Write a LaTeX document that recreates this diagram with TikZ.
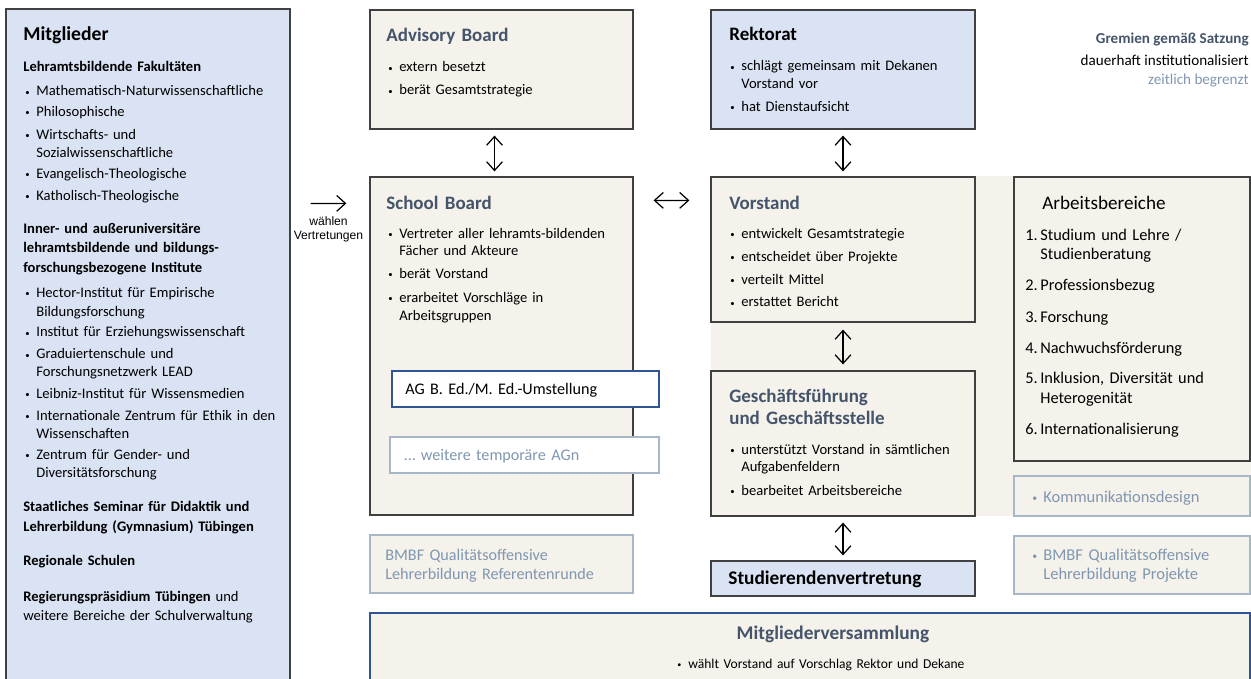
\documentclass[tikz,border=0pt]{standalone}
\usepackage{fontspec}
\setmainfont{Carlito}
\newfontfamily\arialschrift{Liberation Sans}
\usepackage{tikz}
\usetikzlibrary{arrows.meta, positioning, fit, calc}
\usepackage{xcolor}
\definecolor{hellblau}{HTML}{DAE3F3}
\definecolor{beige}{HTML}{F5F1EB}
\definecolor{schiefer}{HTML}{44546A}
\definecolor{stahl}{HTML}{7F97B0}
\definecolor{graublau}{HTML}{A7B7C9}
\definecolor{dunkelblau}{HTML}{2F5597}
\definecolor{rand}{HTML}{404040}
\tikzstyle{kasten} = [rectangle, draw = rand, fill = beige, line width = 0.7pt, inner sep = 0pt]
\tikzstyle{blaukasten} = [kasten, fill = hellblau]
\tikzstyle{hellkasten} = [kasten, draw = graublau, line width = 0.6pt]
\tikzstyle{agkasten} = [kasten, fill = white, draw = dunkelblau, line width = 0.6pt]
\tikzstyle{inhalt} = [anchor = base west, inner sep = 0pt, text width = 9cm, align = left, font = \fontsize{8.3}{10.2}\selectfont]
\tikzstyle{titel} = [anchor = base west, inner sep = 0pt, text width = 8cm, align = left, text = schiefer, font = \fontsize{10.8}{13}\selectfont\bfseries]
\tikzstyle{legende} = [anchor = base east, inner sep = 0pt, font = \fontsize{8.6}{10}\selectfont]
\newcommand{\pkt}{\makebox[0.22cm][l]{\raisebox{0.12ex}{\scalebox{0.6}{\textbullet}}}}
\newcommand{\einr}{\hspace*{0.22cm}}
\newcommand{\lpkt}{\hspace*{0.04cm}\pkt}
\newcommand{\leinr}{\hspace*{0.04cm}\einr}
\newcommand{\nr}[1]{\makebox[0.3cm][l]{#1}}
\newcommand{\neinr}{\hspace*{0.3cm}}

\begin{document}
\begin{tikzpicture}[x = 0.02cm, y = -0.02cm, >={Straight Barb[length=5pt, width=9pt]}]

\useasboundingbox (0,0) rectangle (1251,679);
\clip (0,0) rectangle (1251,679);

\node (0) [fill = beige, inner sep = 0pt, fit = {(711,176) (1251,516)}] {};

\node (1) [blaukasten, fit = {(6,9) (290,720)}] {};
\node (1a) [titel, text = black, font = \fontsize{11.2}{13}\selectfont\bfseries] at (23,41) {Mitglieder};
\node (1b) [inhalt] at (23,72) {\textbf{Lehramtsbildende Fakultäten}\\[3.4pt]
\lpkt Mathematisch-Naturwissenschaftliche\\[1.7pt]
\lpkt Philosophische\\[2.8pt]
\lpkt Wirtschafts- und\\
\leinr Sozialwissenschaftliche\\[1.7pt]
\lpkt Evangelisch-Theologische\\[2.3pt]
\lpkt Katholisch-Theologische\\[8.5pt]
\textbf{Inner- und außeruniversitäre}\\[0.6pt]
\textbf{lehramtsbildende und bildungs-}\\[1.1pt]
\textbf{forschungsbezogene Institute}\\[4pt]
\lpkt Hector-Institut für Empirische\\[0.6pt]
\leinr Bildungsforschung\\[1.7pt]
\lpkt Institut für Erziehungswissenschaft\\[2.3pt]
\lpkt Graduiertenschule und\\
\leinr Forschungsnetzwerk LEAD\\[2.3pt]
\lpkt Leibniz-Institut für Wissensmedien\\[2.3pt]
\lpkt Internationale Zentrum für Ethik in den\\
\leinr Wissenschaften\\[1.7pt]
\lpkt Zentrum für Gender- und\\
\leinr Diversitätsforschung\\[9pt]
\textbf{Staatliches Seminar für Didaktik und}\\[1.1pt]
\textbf{Lehrerbildung (Gymnasium) Tübingen}\\[9.6pt]
\textbf{Regionale Schulen}\\[10.2pt]
\textbf{Regierungspräsidium Tübingen} und\\[0.6pt]
weitere Bereiche der Schulverwaltung};

\node (2) [kasten, fit = {(370,10) (633,129)}] {};
\node (2a) [titel] at (386,42) {Advisory Board};
\node (2b) [inhalt] at (388,72) {\pkt extern besetzt\\[2.8pt]
\pkt berät Gesamtstrategie};

\node (3) [kasten, fit = {(370,177) (633,515)}] {};
\node (3a) [titel] at (386,209) {School Board};
\node (3b) [inhalt] at (388,238) {\pkt Vertreter aller lehramts-bildenden\\
\einr Fächer und Akteure\\[2.8pt]
\pkt berät Vorstand\\[3.4pt]
\pkt erarbeitet Vorschläge in\\
\einr Arbeitsgruppen};

\node (4) [agkasten, fit = {(392,371) (659,407)}] {};
\node (4a) [inhalt, font = \fontsize{9.2}{11}\selectfont] at (405,394) {AG B. Ed./M. Ed.-Umstellung};

\node (5) [agkasten, draw = graublau, fit = {(390,437) (659,473)}] {};
\node (5a) [inhalt, text = stahl, font = \fontsize{9.2}{11}\selectfont] at (404,460) {… weitere temporäre AGn};

\node (6) [hellkasten, fit = {(370,535) (633,593)}] {};
\node (6a) [inhalt, text = stahl, font = \fontsize{9.2}{11.3}\selectfont] at (385,560) {BMBF Qualitätsoffensive\\
Lehrerbildung Referentenrunde};

\node (7) [blaukasten, fit = {(711,10) (975,129)}] {};
\node (7a) [titel, text = black] at (729,41) {Rektorat};
\node (7b) [inhalt] at (730,71) {\pkt schlägt gemeinsam mit Dekanen\\
\einr Vorstand vor\\[2.8pt]
\pkt hat Dienstaufsicht};

\node (8) [kasten, fit = {(711,177) (975,322)}] {};
\node (8a) [titel] at (729,209) {Vorstand};
\node (8b) [inhalt] at (730,238) {\pkt entwickelt Gesamtstrategie\\[3pt]
\pkt entscheidet über Projekte\\[2.8pt]
\pkt verteilt Mittel\\[2.8pt]
\pkt erstattet Bericht};

\node (9) [kasten, fit = {(711,371) (975,516)}] {};
\node (9a) [titel] at (729,402) {Geschäftsführung\\
und Geschäftsstelle};
\node (9b) [inhalt] at (730,454) {\pkt unterstützt Vorstand in sämtlichen\\
\einr Aufgabenfeldern\\[3.4pt]
\pkt bearbeitet Arbeitsbereiche};

\node (10) [blaukasten, fit = {(711,561) (975,596)}] {};
\node (10a) [titel, text = black, font = \fontsize{11}{12}\selectfont\bfseries] at (728,584) {Studierendenvertretung};

\node (11) [kasten, fit = {(1014,177) (1250,461)}] {};
\node (11a) [titel, text = black, font = \fontsize{10.9}{13}\selectfont] at (1042,209) {Arbeitsbereiche};
\node (11b) [inhalt, font = \fontsize{9.3}{11.3}\selectfont] at (1025,240) {\nr{1.}Studium und Lehre /\\
\neinr Studienberatung\\[6.2pt]
\nr{2.}Professionsbezug\\[6.8pt]
\nr{3.}Forschung\\[6.2pt]
\nr{4.}Nachwuchsförderung\\[6.2pt]
\nr{5.}Inklusion, Diversität und\\
\neinr Heterogenität\\[6.2pt]
\nr{6.}Internationalisierung};

\node (12) [hellkasten, fit = {(1014,476) (1250,516)}] {};
\node (12a) [inhalt, text = stahl, font = \fontsize{9.4}{11.3}\selectfont] at (1032,502) {\pkt Kommunikationsdesign};

\node (13) [hellkasten, fit = {(1014,536) (1250,594)}] {};
\node (13a) [inhalt, text = stahl, font = \fontsize{9.4}{11.3}\selectfont] at (1032,560) {\pkt BMBF Qualitätsoffensive\\
\einr Lehrerbildung Projekte};

\node (14) [kasten, draw = dunkelblau, fit = {(370,613) (1250,720)}] {};
\node (14a) [titel, anchor = base, align = center, font = \fontsize{11}{13}\selectfont\bfseries] at (833,639) {Mitgliederversammlung};
\node (14b) [inhalt, font = \fontsize{7.7}{10}\selectfont] at (677,668) {\pkt wählt Vorstand auf Vorschlag Rektor und Dekane};

\node (15) [legende, text = schiefer, font = \fontsize{8.6}{10}\selectfont\bfseries] at (1249,44) {Gremien gemäß Satzung};
\node (16) [legende] at (1249,66) {dauerhaft institutionalisiert};
\node (17) [legende, text = stahl] at (1249,85) {zeitlich begrenzt};

\draw[<->, line width = 0.7pt] ([shift = {(-7,6)}]2.south) -- ([shift = {(-7,-5)}]3.north);
\draw[<->, line width = 0.7pt] ([shift = {(0,6)}]7.south) -- ([shift = {(0,-5)}]8.north);
\draw[<->, line width = 0.7pt] ([shift = {(0,7)}]8.south) -- ([shift = {(0,-6)}]9.north);
\draw[<->, line width = 0.7pt] ([shift = {(0,6)}]9.south) -- ([shift = {(0,-5)}]10.north);
\draw[<->, line width = 0.7pt] ([shift = {(20,24)}]3.north east) -- ([shift = {(-21,24)}]8.north west);
\draw[->, line width = 0.7pt] ([shift = {(20,195)}]1.north east) -- node (18) [below = 0.26cm, inner sep = 0pt, align = center, font = \arialschrift\fontsize{6.9}{8}\selectfont] {wählen\\Vertretungen} ([shift = {(-23,27)}]3.north west);

\end{tikzpicture}
\end{document}
